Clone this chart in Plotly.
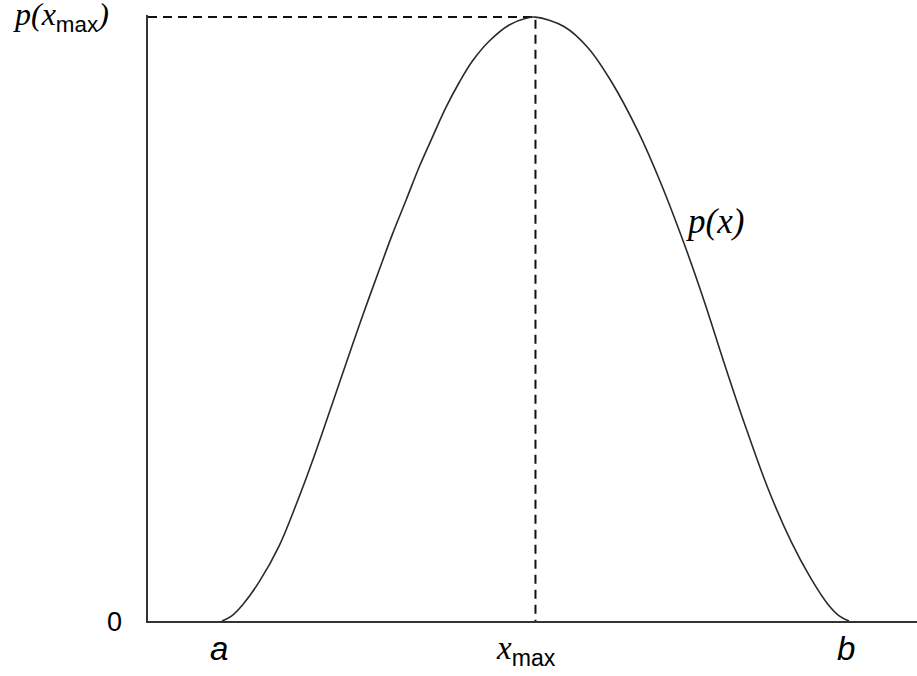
import plotly.graph_objects as go

# Density curve p(x) on [a, b]: x normalised so a = 0, b = 1; p normalised so p(x_max) = 1
x_vals = [0.000, 0.015, 0.033, 0.060, 0.091, 0.118, 0.145, 0.171, 0.198, 0.222,
          0.251, 0.272, 0.294, 0.315, 0.336, 0.357, 0.379, 0.400, 0.426, 0.458,
          0.485, 0.500,
          0.546, 0.584, 0.620, 0.664, 0.700, 0.737, 0.769, 0.801, 0.833, 0.871,
          0.908, 0.939, 0.967, 0.985, 1.000]
p_vals = [0.000, 0.008, 0.027, 0.066, 0.124, 0.192, 0.267, 0.345, 0.427, 0.499,
          0.582, 0.641, 0.698, 0.753, 0.802, 0.850, 0.893, 0.928, 0.960, 0.987,
          0.998, 1.000,
          0.984, 0.949, 0.895, 0.810, 0.725, 0.625, 0.530, 0.427, 0.328, 0.219,
          0.131, 0.071, 0.027, 0.008, 0.000]

x_a, x_max, x_b = 0.0, 0.5, 1.0
p_zero, p_max = 0.0, 1.0
x_range = [-0.1180, 1.1085]
y_range = [0.0, 1.0035]

sub_max = "<sub><span style='font-family:Liberation Sans, Arial, sans-serif'>max</span></sub>"
x_labels = ["<i>a</i>", "<i>x</i>" + sub_max, "<i>b</i>"]
y_labels = ["0", "<i>p(x</i>" + sub_max + "<i>)</i>"]
curve_label = "<i>p(x)</i>"

fig = go.Figure()

# dashed guides to the maximum
fig.add_trace(go.Scatter(
    x=[x_range[0], x_max, x_max], y=[p_max, p_max, p_zero],
    mode="lines", line=dict(color="#111111", width=2, dash="9px,6px"),
    hoverinfo="skip"))

# the density curve
fig.add_trace(go.Scatter(
    x=x_vals, y=p_vals, mode="lines",
    line=dict(color="#2a2a2a", width=1.6, shape="spline", smoothing=1.0),
    hoverinfo="skip"))

sans = "Liberation Sans, Arial, sans-serif"
serif = "Liberation Serif, Times New Roman, serif"

# x-axis labels a, x_max, b
fig.add_annotation(x=x_a, y=p_zero, xref="x", yref="y", text=x_labels[0],
                   showarrow=False, xanchor="center", yanchor="middle",
                   xshift=-3, yshift=-27, font=dict(family=sans, size=33, color="#000000"))
fig.add_annotation(x=x_max, y=p_zero, xref="x", yref="y", text=x_labels[1],
                   showarrow=False, xanchor="center", yanchor="middle",
                   xshift=-9, yshift=-29, font=dict(family=serif, size=33, color="#000000"))
fig.add_annotation(x=x_b, y=p_zero, xref="x", yref="y", text=x_labels[2],
                   showarrow=False, xanchor="center", yanchor="middle",
                   xshift=-3, yshift=-27, font=dict(family=sans, size=33, color="#000000"))

# y-axis labels 0 and p(x_max)
fig.add_annotation(x=0, y=p_zero, xref="paper", yref="y", text=y_labels[0],
                   showarrow=False, xanchor="center", yanchor="middle",
                   xshift=-34, yshift=-1,
                   font=dict(family=sans, size=27, color="#000000"))
fig.add_annotation(x=0, y=p_max, xref="paper", yref="y", text=y_labels[1],
                   showarrow=False, xanchor="left", yanchor="middle",
                   xshift=-137, yshift=1,
                   font=dict(family=serif, size=32, color="#000000"))

# curve label
fig.add_annotation(x=0.74, y=0.65, xref="x", yref="y", text=curve_label,
                   showarrow=False, xanchor="left", yanchor="middle",
                   xshift=-3, yshift=7,
                   font=dict(family=serif, size=35, color="#000000"))

fig.update_xaxes(range=x_range, showline=True, linecolor="#333333", linewidth=2,
                 showgrid=False, zeroline=False, showticklabels=False, ticks="")
fig.update_yaxes(range=y_range, showline=True, linecolor="#333333", linewidth=2,
                 showgrid=False, zeroline=False, showticklabels=False, ticks="")

fig.update_layout(
    width=917, height=676,
    margin=dict(l=148, r=0, t=15, b=55),
    paper_bgcolor="#ffffff", plot_bgcolor="#ffffff",
    showlegend=False,
)

fig.write_html("out.html")
